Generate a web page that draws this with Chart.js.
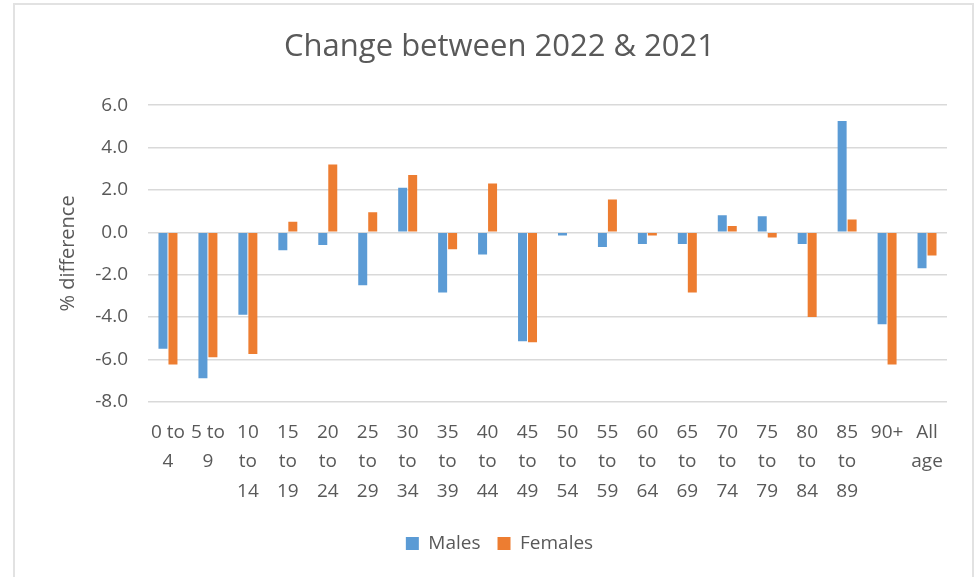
<!DOCTYPE html>
<html>
<head>
<meta charset="utf-8">
<script src="https://cdn.jsdelivr.net/npm/chart.js@4/dist/chart.umd.min.js"></script>
<style>
    body { margin: 0; background: #fff; }
    .wrap { position: relative; width: 980px; height: 577px; }
    .frame { position: absolute; left: 13px; top: 3px; width: 961px; height: 590px; border: 2px solid #e2e2e2; box-sizing: border-box; pointer-events: none; }
    canvas { position: absolute; left: 0; top: 0; }
</style>
</head>
<body>
<div class="wrap">
    <canvas id="changeChart" width="980" height="577"></canvas>
    <div class="frame"></div>
</div>
<script>
const ageGroups = [
    ["0 to", "4"], ["5 to", "9"], ["10", "to", "14"], ["15", "to", "19"],
    ["20", "to", "24"], ["25", "to", "29"], ["30", "to", "34"], ["35", "to", "39"],
    ["40", "to", "44"], ["45", "to", "49"], ["50", "to", "54"], ["55", "to", "59"],
    ["60", "to", "64"], ["65", "to", "69"], ["70", "to", "74"], ["75", "to", "79"],
    ["80", "to", "84"], ["85", "to", "89"], ["90+"], ["All", "age"]
];

const males = [-5.5, -6.9, -3.9, -0.85, -0.6, -2.5, 2.1, -2.85, -1.05, -5.15,
    -0.15, -0.7, -0.55, -0.55, 0.8, 0.75, -0.55, 5.25, -4.35, -1.7];

const females = [-6.25, -5.9, -5.75, 0.5, 3.2, 0.95, 2.7, -0.8, 2.3, -5.2,
    0.0, 1.55, -0.15, -2.85, 0.3, -0.25, -4.0, 0.6, -6.25, -1.1];

const textColor = "#595959";
const fontFamily = "'Open Sans', sans-serif";

const ctx = document.getElementById("changeChart").getContext("2d");

new Chart(ctx, {
    type: "bar",
    data: {
        labels: ageGroups,
        datasets: [
            {
                label: "Males",
                data: males,
                backgroundColor: "#5B9BD5",
                categoryPercentage: 0.5,
                barPercentage: 0.9
            },
            {
                label: "Females",
                data: females,
                backgroundColor: "#ED7D31",
                categoryPercentage: 0.5,
                barPercentage: 0.9
            }
        ]
    },
    options: {
        responsive: false,
        animation: false,
        layout: {
            padding: { left: 52, right: 33, top: 0, bottom: 14 }
        },
        plugins: {
            title: {
                display: true,
                text: "Change between 2022 & 2021",
                color: textColor,
                font: { family: fontFamily, size: 31, weight: "normal" },
                padding: { top: 29, bottom: 39 }
            },
            legend: {
                position: "bottom",
                labels: {
                    color: textColor,
                    font: { family: fontFamily, size: 19 },
                    boxWidth: 13,
                    boxHeight: 13,
                    padding: 17
                }
            },
            tooltip: { enabled: false }
        },
        scales: {
            x: {
                grid: { display: false },
                border: { display: false },
                ticks: {
                    color: textColor,
                    font: { family: fontFamily, size: 19, lineHeight: 1.55 },
                    maxRotation: 0,
                    autoSkip: false,
                    padding: 8
                },
                // a bit more room between the labels and the legend
                afterFit: scale => { scale.height += 3; }
            },
            y: {
                min: -8,
                max: 6,
                grid: { color: "#d9d9d9", lineWidth: 1.5, drawTicks: false },
                border: { display: false },
                ticks: {
                    stepSize: 2,
                    color: textColor,
                    font: { family: fontFamily, size: 19 },
                    padding: 20,
                    callback: v => v.toFixed(1)
                },
                title: {
                    display: true,
                    text: "% difference",
                    color: textColor,
                    font: { family: fontFamily, size: 20 },
                    padding: { bottom: 8 }
                },
                afterFit: scale => { scale.width = 96; }
            }
        }
    }
});
</script>
</body>
</html>
